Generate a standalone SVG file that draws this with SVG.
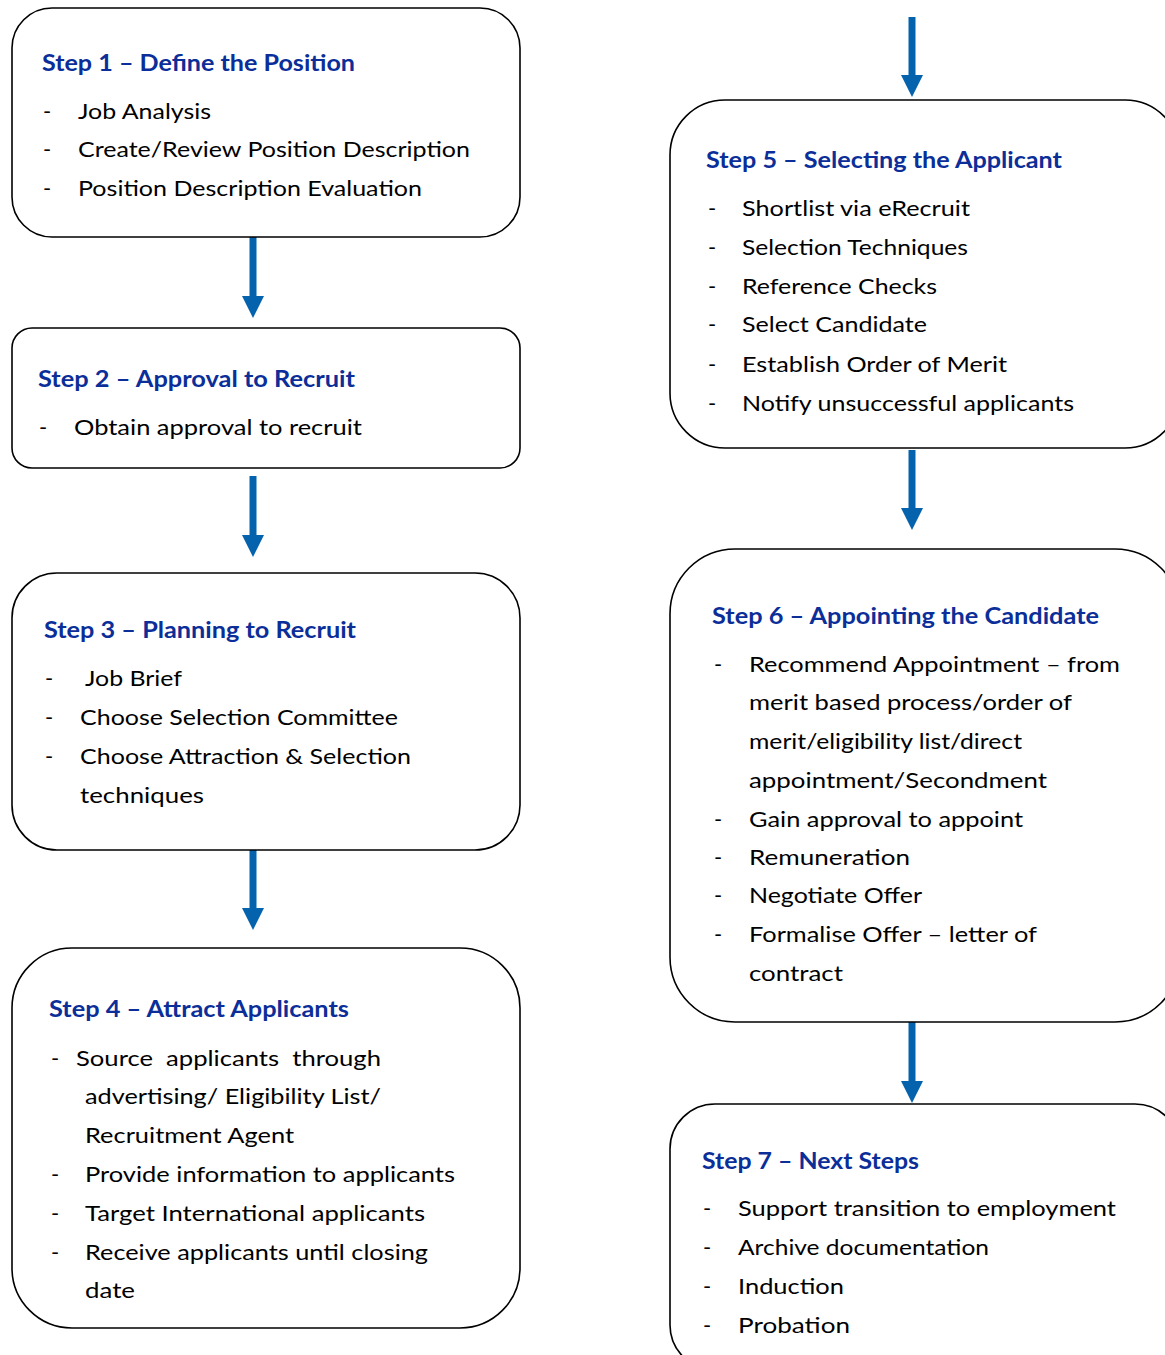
<svg xmlns="http://www.w3.org/2000/svg" width="1165" height="1355" viewBox="0 0 1165 1355">
<style>
.box{fill:#fff;stroke:#000;stroke-width:1.6}
.h{font-family:Lato,"Liberation Sans",sans-serif;font-weight:bold;font-size:22px;fill:#0B2E99}
.t{font-family:Lato,"Liberation Sans",sans-serif;font-size:22px;fill:#000}
.conn{stroke:#0563AE;stroke-width:7;fill:none}
</style>
<defs>
<marker id="ah" viewBox="0 0 22 22" markerWidth="22" markerHeight="22" refX="0" refY="11" orient="auto" markerUnits="userSpaceOnUse">
<path d="M0,0 L22,11 L0,22 z" fill="#0563AE"/>
</marker>
</defs>
<rect width="1165" height="1355" fill="#fff"/>
<g id="connectors">
<line class="conn" x1="253" y1="237" x2="253" y2="296" marker-end="url(#ah)"/>
<line class="conn" x1="253" y1="476" x2="253" y2="535" marker-end="url(#ah)"/>
<line class="conn" x1="253" y1="850" x2="253" y2="908" marker-end="url(#ah)"/>
<line class="conn" x1="912" y1="17" x2="912" y2="75" marker-end="url(#ah)"/>
<line class="conn" x1="912" y1="450" x2="912" y2="508" marker-end="url(#ah)"/>
<line class="conn" x1="912" y1="1022" x2="912" y2="1081" marker-end="url(#ah)"/>
</g>
<g id="step1">
<rect class="box" x="12" y="8" width="508" height="229" rx="40" ry="40"/>
<text class="h" x="42" y="71" textLength="313" lengthAdjust="spacingAndGlyphs">Step 1 – Define the Position</text>
<text class="t" x="43" y="119">-</text><text class="t" x="78" y="119" textLength="133" lengthAdjust="spacingAndGlyphs">Job Analysis</text>
<text class="t" x="43" y="157">-</text><text class="t" x="78" y="157" textLength="392" lengthAdjust="spacingAndGlyphs">Create/Review Position Description</text>
<text class="t" x="43" y="196">-</text><text class="t" x="78" y="196" textLength="344" lengthAdjust="spacingAndGlyphs">Position Description Evaluation</text>
</g>
<g id="step2">
<rect class="box" x="12" y="328" width="508" height="140" rx="20" ry="20"/>
<text class="h" x="38" y="387" textLength="317" lengthAdjust="spacingAndGlyphs">Step 2 – Approval to Recruit</text>
<text class="t" x="39" y="435">-</text><text class="t" x="74" y="435" textLength="288" lengthAdjust="spacingAndGlyphs">Obtain approval to recruit</text>
</g>
<g id="step3">
<rect class="box" x="12" y="573" width="508" height="277" rx="45" ry="45"/>
<text class="h" x="44" y="638" textLength="312" lengthAdjust="spacingAndGlyphs">Step 3 – Planning to Recruit</text>
<text class="t" x="45" y="686">-</text><text class="t" x="85" y="686" textLength="97" lengthAdjust="spacingAndGlyphs">Job Brief</text>
<text class="t" x="45" y="725">-</text><text class="t" x="80" y="725" textLength="318" lengthAdjust="spacingAndGlyphs">Choose Selection Committee</text>
<text class="t" x="45" y="764">-</text><text class="t" x="80" y="764" textLength="331" lengthAdjust="spacingAndGlyphs">Choose Attraction &amp; Selection</text>
<text class="t" x="80" y="803" textLength="124" lengthAdjust="spacingAndGlyphs">techniques</text>
</g>
<g id="step4">
<rect class="box" x="12" y="948" width="508" height="380" rx="60" ry="60"/>
<text class="h" x="49" y="1017" textLength="300" lengthAdjust="spacingAndGlyphs">Step 4 – Attract Applicants</text>
<text class="t" x="51" y="1066">-</text><text class="t" x="76" y="1066" textLength="305" lengthAdjust="spacingAndGlyphs" xml:space="preserve">Source  applicants  through</text>
<text class="t" x="85" y="1104" textLength="296" lengthAdjust="spacingAndGlyphs">advertising/ Eligibility List/</text>
<text class="t" x="85" y="1143" textLength="209" lengthAdjust="spacingAndGlyphs">Recruitment Agent</text>
<text class="t" x="51" y="1182">-</text><text class="t" x="85" y="1182" textLength="370" lengthAdjust="spacingAndGlyphs">Provide information to applicants</text>
<text class="t" x="51" y="1221">-</text><text class="t" x="85" y="1221" textLength="340" lengthAdjust="spacingAndGlyphs">Target International applicants</text>
<text class="t" x="51" y="1260">-</text><text class="t" x="85" y="1260" textLength="343" lengthAdjust="spacingAndGlyphs">Receive applicants until closing</text>
<text class="t" x="85" y="1298" textLength="50" lengthAdjust="spacingAndGlyphs">date</text>
</g>
<g id="step5">
<rect class="box" x="670" y="100" width="510" height="348" rx="55" ry="55"/>
<text class="h" x="706" y="168" textLength="356" lengthAdjust="spacingAndGlyphs">Step 5 – Selecting the Applicant</text>
<text class="t" x="708" y="216">-</text><text class="t" x="742" y="216" textLength="228" lengthAdjust="spacingAndGlyphs">Shortlist via eRecruit</text>
<text class="t" x="708" y="255">-</text><text class="t" x="742" y="255" textLength="226" lengthAdjust="spacingAndGlyphs">Selection Techniques</text>
<text class="t" x="708" y="294">-</text><text class="t" x="742" y="294" textLength="195" lengthAdjust="spacingAndGlyphs">Reference Checks</text>
<text class="t" x="708" y="332">-</text><text class="t" x="742" y="332" textLength="185" lengthAdjust="spacingAndGlyphs">Select Candidate</text>
<text class="t" x="708" y="372">-</text><text class="t" x="742" y="372" textLength="265" lengthAdjust="spacingAndGlyphs">Establish Order of Merit</text>
<text class="t" x="708" y="411">-</text><text class="t" x="742" y="411" textLength="332" lengthAdjust="spacingAndGlyphs">Notify unsuccessful applicants</text>
</g>
<g id="step6">
<rect class="box" x="670" y="549" width="510" height="473" rx="65" ry="65"/>
<text class="h" x="712" y="624" textLength="387" lengthAdjust="spacingAndGlyphs">Step 6 – Appointing the Candidate</text>
<text class="t" x="714" y="672">-</text><text class="t" x="749" y="672" textLength="371" lengthAdjust="spacingAndGlyphs">Recommend Appointment – from</text>
<text class="t" x="749" y="710" textLength="323" lengthAdjust="spacingAndGlyphs">merit based process/order of</text>
<text class="t" x="749" y="749" textLength="273" lengthAdjust="spacingAndGlyphs">merit/eligibility list/direct</text>
<text class="t" x="749" y="788" textLength="298" lengthAdjust="spacingAndGlyphs">appointment/Secondment</text>
<text class="t" x="714" y="827">-</text><text class="t" x="749" y="827" textLength="274" lengthAdjust="spacingAndGlyphs">Gain approval to appoint</text>
<text class="t" x="714" y="865">-</text><text class="t" x="749" y="865" textLength="161" lengthAdjust="spacingAndGlyphs">Remuneration</text>
<text class="t" x="714" y="903">-</text><text class="t" x="749" y="903" textLength="173" lengthAdjust="spacingAndGlyphs">Negotiate Offer</text>
<text class="t" x="714" y="942">-</text><text class="t" x="749" y="942" textLength="288" lengthAdjust="spacingAndGlyphs">Formalise Offer – letter of</text>
<text class="t" x="749" y="981" textLength="94" lengthAdjust="spacingAndGlyphs">contract</text>
</g>
<g id="step7">
<rect class="box" x="670" y="1104" width="510" height="266" rx="45" ry="45"/>
<text class="h" x="702" y="1169" textLength="217" lengthAdjust="spacingAndGlyphs">Step 7 – Next Steps</text>
<text class="t" x="703" y="1216">-</text><text class="t" x="738" y="1216" textLength="378" lengthAdjust="spacingAndGlyphs">Support transition to employment</text>
<text class="t" x="703" y="1255">-</text><text class="t" x="738" y="1255" textLength="251" lengthAdjust="spacingAndGlyphs">Archive documentation</text>
<text class="t" x="703" y="1294">-</text><text class="t" x="738" y="1294" textLength="106" lengthAdjust="spacingAndGlyphs">Induction</text>
<text class="t" x="703" y="1333">-</text><text class="t" x="738" y="1333" textLength="112" lengthAdjust="spacingAndGlyphs">Probation</text>
</g>
</svg>
